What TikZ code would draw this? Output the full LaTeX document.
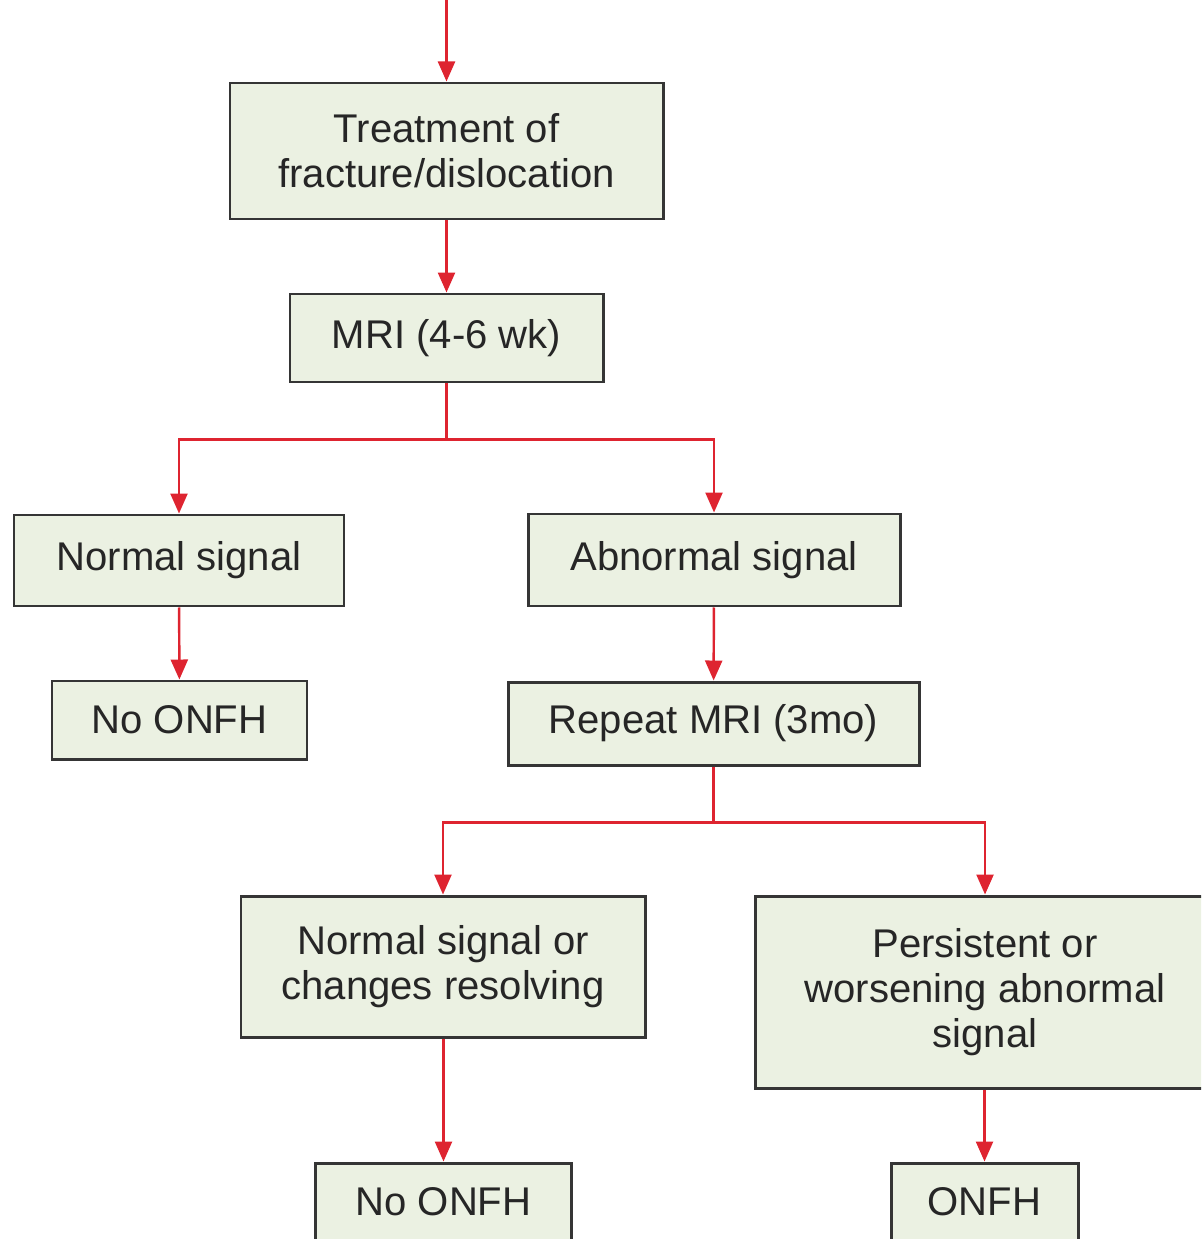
\documentclass[tikz,border=0pt]{standalone}
\usepackage{fontspec}
\setsansfont{Liberation Sans}
\usetikzlibrary{arrows.meta, positioning}
\definecolor{cfill}{HTML}{EBF1E2}
\definecolor{cedge}{HTML}{353535}
\definecolor{cred}{HTML}{DE2430}
\definecolor{ctext}{HTML}{262626}
\tikzset{
  every picture/.style={font=\sffamily, line width=0.7pt},
  box/.style={draw=cedge, fill=cfill, line width=0.85pt, align=center, inner sep=0pt,
    text=ctext, font=\sffamily\fontsize{11.4}{12.8}\selectfont},
  arrow/.style={-{Triangle[length=2mm, width=1.7mm]}, draw=cred, line width=0.7pt},
  link/.style={draw=cred, line width=0.7pt},
}

\begin{document}
\begin{tikzpicture}
  \useasboundingbox (0,0) rectangle (12.01,-12.39);
  \clip (0,0) rectangle (12.01,-12.39);
  \coordinate (start) at (4.465,0.05);
  \node[box, minimum width=4.33cm, minimum height=1.36cm] (treat) at (4.465,-1.51) {Treatment of\\fracture/dislocation};
  \node[box, minimum width=3.13cm, minimum height=0.88cm] (mri) at (4.465,-3.38) {MRI (4-6 wk)};
  \node[box, minimum width=3.30cm, minimum height=0.91cm] (normal) at (1.79,-5.605) {Normal signal};
  \node[box, minimum width=3.72cm, minimum height=0.92cm] (abnormal) at (7.14,-5.60) {Abnormal signal};
  \node[box, minimum width=2.55cm, minimum height=0.78cm] (noonfh) at (1.795,-7.20) {No ONFH};
  \node[box, minimum width=4.11cm, minimum height=0.83cm] (repeat) at (7.135,-7.235) {Repeat MRI (3mo)};
  \node[box, minimum width=4.04cm, minimum height=1.41cm] (resolving) at (4.43,-9.665) {Normal signal or\\changes resolving};
  \node[box, minimum width=4.60cm, minimum height=1.92cm] (persist) at (9.85,-9.92) {Persistent or\\worsening abnormal\\signal};
  \node[box, minimum width=2.56cm, minimum height=0.78cm] (noonfhb) at (4.435,-12.02) {No ONFH};
  \node[box, minimum width=1.87cm, minimum height=0.78cm] (onfh) at (9.845,-12.02) {ONFH};

  \draw[arrow] (start) -- (treat);
  \draw[arrow] (treat) -- (mri);
  \draw[link] (mri.south) -- ++(0,-0.56) coordinate (split1);
  \draw[arrow] (split1) -| (normal.north);
  \draw[arrow] (split1) -| (abnormal.north);
  \draw[arrow] (normal) -- (noonfh);
  \draw[arrow] (abnormal) -- (repeat);
  \draw[link] (repeat.south) -- ++(0,-0.56) coordinate (split2);
  \draw[arrow] (split2) -| (resolving.north);
  \draw[arrow] (split2) -| (persist.north);
  \draw[arrow] (resolving.south -| noonfhb.north) -- (noonfhb.north);
  \draw[arrow] (persist.south -| onfh.north) -- (onfh.north);
\end{tikzpicture}
\end{document}
